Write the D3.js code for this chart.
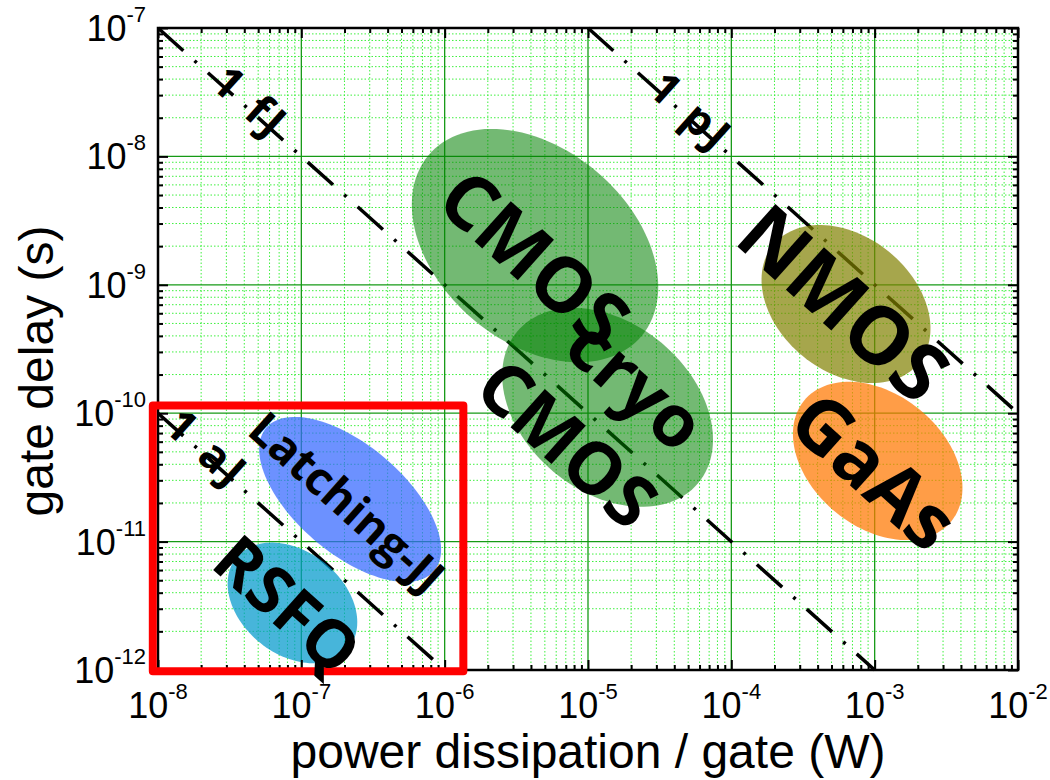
<!DOCTYPE html>
<html>
<head>
<meta charset="utf-8">
<script src="https://cdn.jsdelivr.net/npm/d3@7"></script>
<style>
  body { margin: 0; background: #fff; }
  svg { display: block; }
</style>
</head>
<body>
<div id="chart"></div>
<script>
// ---- data ----
// axis decades (exponents of 10)
const powerExps = [-8, -7, -6, -5, -4, -3, -2];
const delayExps = [-12, -11, -10, -9, -8, -7];

// constant switching-energy lines (J)
const energyValues = [1e-18, 1e-15, 1e-12];
const energyLabels = ['1 aJ', '1 fJ', '1 pJ'];
const energyLabelPower = [2.06e-8, 4.14e-8, 4.91e-5];

// technology regions: centre, half-length / half-width (decades), tilt (deg, log space)
const techNames = ['CMOS', 'cryo CMOS', 'NMOS', 'GaAs', 'Latching-JJ', 'RSFQ'];
const techPower = [4.27e-6, 1.37e-5, 6.31e-4, 1.05e-3, 2.19e-7, 8.67e-8];
const techDelay = [2.02e-9, 1.11e-10, 7.08e-10, 4.25e-11, 2.13e-11, 3.33e-12];
const techHalfLen = [1.03, 0.87, 0.69, 0.70, 0.81, 0.53];
const techHalfWid = [0.71, 0.62, 0.50, 0.49, 0.40, 0.38];
const techTilt = [49.5, 49.6, 49.0, 48.5, 45.6, 48.4];

// where each region's name is written
const techLabelPower = [4.34e-6, 1.28e-5, 6.25e-4, 1.02e-3, 2.12e-7, 8.2e-8];
const techLabelDelay = [1.65e-9, 1.02e-10, 7.48e-10, 3.67e-11, 2.07e-11, 3.33e-12];

// highlighted superconducting corner
const boxPower = [9.2e-9, 1.35e-6];
const boxDelay = [0.98e-12, 1.15e-10];

// ---- styles ----
const techColors = ['#008000', '#008000', '#808000', '#ff7700', '#3366ff', '#0099cc'];
const techOpacity = [0.55, 0.55, 0.7, 0.72, 0.72, 0.72];
const techFont = [76, 72, 80, 76, 46, 66];
const tickFont = 'Liberation Sans, Arial, sans-serif';
const labelFont = 'Open Sans, Noto Sans, sans-serif';

// ---- layout ----
const svgWidth = 1050;
const svgHeight = 780;
const margin = { top: 28, right: 32, bottom: 110, left: 158 };
const width = svgWidth - margin.left - margin.right;
const height = svgHeight - margin.top - margin.bottom;

const svg = d3.select('#chart')
  .append('svg')
  .attr('width', svgWidth)
  .attr('height', svgHeight);

const g = svg.append('g')
  .attr('transform', `translate(${margin.left},${margin.top})`);

const x = d3.scaleLog().domain([1e-8, 1e-2]).range([0, width]);
const y = d3.scaleLog().domain([1e-12, 1e-7]).range([height, 0]);

const isPow10 = v => Math.abs(Math.log10(v) - Math.round(Math.log10(v))) < 1e-9;
const majorP = powerExps.map(e => Math.pow(10, e));
const majorT = delayExps.map(e => Math.pow(10, e));
const minorP = x.ticks().filter(v => !isPow10(v));
const minorT = y.ticks().filter(v => !isPow10(v));

// slope of a constant-energy line on screen
const lineAngle = Math.atan2(y(1e-12) - y(1e-11), x(1e-7) - x(1e-8)) * 180 / Math.PI;

// ---- grid ----
const grid = g.append('g');
grid.selectAll('.mx').data(minorP).join('line')
  .attr('x1', d => x(d)).attr('x2', d => x(d)).attr('y1', 0).attr('y2', height)
  .attr('stroke', '#3ef03e').attr('stroke-width', 1).attr('stroke-dasharray', '1.5 2');
grid.selectAll('.my').data(minorT).join('line')
  .attr('y1', d => y(d)).attr('y2', d => y(d)).attr('x1', 0).attr('x2', width)
  .attr('stroke', '#3ef03e').attr('stroke-width', 1).attr('stroke-dasharray', '1.5 2');
grid.selectAll('.Mx').data(majorP).join('line')
  .attr('x1', d => x(d)).attr('x2', d => x(d)).attr('y1', 0).attr('y2', height)
  .attr('stroke', '#169a16').attr('stroke-width', 1.3);
grid.selectAll('.My').data(majorT).join('line')
  .attr('y1', d => y(d)).attr('y2', d => y(d)).attr('x1', 0).attr('x2', width)
  .attr('stroke', '#169a16').attr('stroke-width', 1.3);

// ---- constant energy lines ----
const energyLine = d3.line().x(d => x(d[0])).y(d => y(d[1]));
energyValues.forEach(E => {
  const p0 = Math.max(1e-8, E / 1e-7);
  const p1 = Math.min(1e-2, E / 1e-12);
  g.append('path')
    .attr('d', energyLine([[p0, E / p0], [p1, E / p1]]))
    .attr('fill', 'none')
    .attr('stroke', '#000')
    .attr('stroke-width', 3.5)
    .attr('stroke-dasharray', '34 15 3 15');
});

// ---- technology ellipses (built in log space, mapped through the scales) ----
const ellipse = d3.line().x(d => x(d[0])).y(d => y(d[1])).curve(d3.curveLinearClosed);
const steps = d3.range(0, 2 * Math.PI, Math.PI / 60);
techNames.forEach((name, i) => {
  const lp = Math.log10(techPower[i]);
  const lt = Math.log10(techDelay[i]);
  const a = techHalfLen[i], b = techHalfWid[i];
  const th = techTilt[i] * Math.PI / 180;
  const pts = steps.map(s => {
    const u = a * Math.cos(s), v = b * Math.sin(s);
    return [
      Math.pow(10, lp + u * Math.cos(th) - v * Math.sin(th)),
      Math.pow(10, lt - u * Math.sin(th) - v * Math.cos(th))
    ];
  });
  g.append('path')
    .attr('d', ellipse(pts))
    .attr('fill', techColors[i])
    .attr('fill-opacity', techOpacity[i]);
});

// ---- axes: inward ticks on all four sides ----
const tidy = sel => {
  sel.select('.domain').remove();
  sel.selectAll('line').attr('stroke', '#000').attr('stroke-width', 2);
};
const addAxis = (axis, tx, ty) => g.append('g')
  .attr('transform', `translate(${tx},${ty})`)
  .call(axis)
  .call(tidy);

addAxis(d3.axisBottom(x).tickValues(majorP).tickSize(-10).tickFormat(''), 0, height);
addAxis(d3.axisBottom(x).tickValues(minorP).tickSize(-5).tickFormat(''), 0, height);
addAxis(d3.axisTop(x).tickValues(majorP).tickSize(-10).tickFormat(''), 0, 0);
addAxis(d3.axisTop(x).tickValues(minorP).tickSize(-5).tickFormat(''), 0, 0);
addAxis(d3.axisLeft(y).tickValues(majorT).tickSize(-10).tickFormat(''), 0, 0);
addAxis(d3.axisLeft(y).tickValues(minorT).tickSize(-5).tickFormat(''), 0, 0);
addAxis(d3.axisRight(y).tickValues(majorT).tickSize(-10).tickFormat(''), width, 0);
addAxis(d3.axisRight(y).tickValues(minorT).tickSize(-5).tickFormat(''), width, 0);

g.append('rect')
  .attr('width', width).attr('height', height)
  .attr('fill', 'none').attr('stroke', '#000').attr('stroke-width', 2.5);

// tick labels as 10^n
const powLabel = (sel, e) => {
  sel.append('tspan').text('10');
  sel.append('tspan').text(e).attr('dy', -19).attr('font-size', 22);
};
g.append('g').selectAll('text').data(powerExps).join('text')
  .attr('x', d => x(Math.pow(10, d)))
  .attr('y', height + 48)
  .attr('text-anchor', 'middle')
  .attr('font-family', tickFont).attr('font-size', 36)
  .each(function (d) { powLabel(d3.select(this), d); });
g.append('g').selectAll('text').data(delayExps).join('text')
  .attr('x', -12)
  .attr('y', d => y(Math.pow(10, d)) + 13)
  .attr('text-anchor', 'end')
  .attr('font-family', tickFont).attr('font-size', 36)
  .each(function (d) { powLabel(d3.select(this), d); });

// axis titles
svg.append('text')
  .attr('x', margin.left + width / 2).attr('y', 768)
  .attr('text-anchor', 'middle')
  .attr('font-family', tickFont).attr('font-size', 48)
  .text('power dissipation / gate (W)');
svg.append('text')
  .attr('transform', 'translate(53,371) rotate(-90)')
  .attr('text-anchor', 'middle')
  .attr('font-family', tickFont).attr('font-size', 48)
  .text('gate delay (s)');

// ---- red box ----
g.append('rect')
  .attr('x', x(boxPower[0])).attr('y', y(boxDelay[1]))
  .attr('width', x(boxPower[1]) - x(boxPower[0]))
  .attr('height', y(boxDelay[0]) - y(boxDelay[1]))
  .attr('fill', 'none').attr('stroke', '#ff0000')
  .attr('stroke-width', 8).attr('stroke-linejoin', 'round');

// ---- energy labels along their lines ----
energyValues.forEach((E, i) => {
  const P = energyLabelPower[i];
  g.append('text')
    .attr('transform', `translate(${x(P)},${y(E / P)}) rotate(${lineAngle})`)
    .attr('y', -8)
    .attr('text-anchor', 'middle')
    .attr('dominant-baseline', 'central')
    .attr('font-family', labelFont).attr('font-weight', 700)
    .attr('font-size', 44).attr('letter-spacing', 4)
    .text(energyLabels[i]);
});

// ---- technology names ----
techNames.forEach((name, i) => {
  const t = g.append('text')
    .attr('transform', `translate(${x(techLabelPower[i])},${y(techLabelDelay[i])}) rotate(${lineAngle})`)
    .attr('text-anchor', 'middle')
    .attr('dominant-baseline', 'central')
    .attr('font-family', labelFont).attr('font-weight', 700)
    .attr('font-size', techFont[i]);
  const words = name.split(' ');
  if (words.length === 1) {
    t.text(name);
  } else {
    t.append('tspan').attr('x', 6).attr('dy', '-0.62em').text(words[0]);
    t.append('tspan').attr('x', -6).attr('dy', '1.25em').text(words[1]);
  }
});
</script>
</body>
</html>
